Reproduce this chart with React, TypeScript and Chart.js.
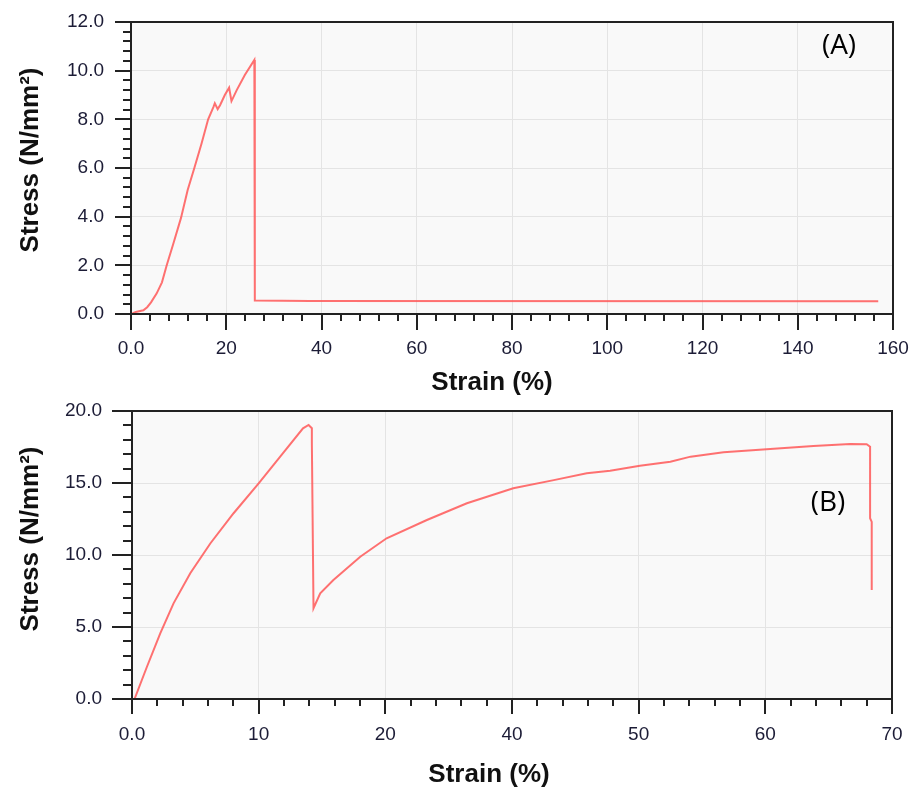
import React, { useEffect, useRef } from "react";
import { Chart, registerables } from "chart.js";

Chart.register(...registerables);

// ---- Chart A data ----
const A_STRAIN = [0.3, 1.0, 2.6, 3.4, 4.2, 5.4, 6.5, 7.5, 8.9, 10.5, 11.9, 13.3, 14.8, 16.2, 17.3, 17.6, 18.2, 18.7, 19.7, 20.6, 21.1, 22.2, 23.9, 25.9, 26.0, 37.5, 156.9];
const A_STRESS = [0.02, 0.08, 0.15, 0.28, 0.48, 0.85, 1.3, 2.0, 2.9, 3.95, 5.1, 6.0, 7.0, 8.0, 8.5, 8.66, 8.42, 8.58, 9.0, 9.3, 8.75, 9.2, 9.82, 10.44, 0.55, 0.53, 0.52];
const A_X_LABELS = ["0.0", "20", "40", "60", "80", "100", "120", "140", "160"];
const A_Y_LABELS = ["0.0", "2.0", "4.0", "6.0", "8.0", "10.0", "12.0"];

// ---- Chart B data ----
const B_STRAIN = [0.2, 1.18, 2.23, 3.28, 4.6, 6.18, 8.02, 10.0, 11.7, 13.5, 13.94, 14.2, 14.2, 14.33, 14.86, 15.9, 18.02, 20.1, 23.28, 26.44, 30.1, 33.3, 35.9, 37.75, 40.1, 42.5, 44.1, 46.7, 50.1, 53.8, 56.7, 58.0, 58.27, 58.27, 58.4, 58.4];
const B_STRESS = [0.0, 2.24, 4.56, 6.64, 8.73, 10.8, 12.9, 14.98, 16.83, 18.8, 19.03, 18.8, 17.76, 6.3, 7.34, 8.26, 9.88, 11.16, 12.43, 13.59, 14.63, 15.2, 15.67, 15.85, 16.2, 16.48, 16.83, 17.13, 17.34, 17.57, 17.71, 17.69, 17.52, 12.55, 12.3, 7.57];
const B_X_LABELS = ["0.0", "10", "20", "40", "50", "60", "70"];
const B_Y_LABELS = ["0.0", "5.0", "10.0", "15.0", "20.0"];

const X_TITLE = "Strain (%)";
const Y_TITLE = "Stress (N/mm\u00b2)";

const TICK_FONT = { family: "'Liberation Sans', Arial, sans-serif", size: 19 };
const TICK_COLOR = "#1c1c36";
const LINE_COLOR = "rgba(255, 88, 88, 0.85)";

const framePlugin = {
  id: "frame",
  beforeDraw(chart: any) {
    const { ctx, chartArea: a } = chart;
    ctx.save();
    ctx.fillStyle = "#f9f9f9";
    ctx.fillRect(a.left, a.top, a.right - a.left, a.bottom - a.top);
    ctx.restore();
  },
  afterDraw(chart: any, _args: any, opts: any) {
    const { ctx, chartArea: a, scales } = chart;
    const xs = scales.x;
    const ys = scales.y;
    ctx.save();
    ctx.strokeStyle = "#222";
    ctx.lineWidth = 2;
    ctx.strokeRect(a.left, a.top, a.right - a.left, a.bottom - a.top);
    ctx.beginPath();
    const nx = Math.round((xs.max - xs.min) / opts.xMinor);
    for (let i = 0; i <= nx; i++) {
      const v = xs.min + i * opts.xMinor;
      const px = Math.round(xs.getPixelForValue(v));
      const major = Math.abs(v / opts.xMajor - Math.round(v / opts.xMajor)) < 1e-6;
      ctx.moveTo(px, a.bottom);
      ctx.lineTo(px, a.bottom + (major ? opts.xMajorLen : opts.xMinorLen));
    }
    const ny = Math.round((ys.max - ys.min) / opts.yMinor);
    for (let i = 0; i <= ny; i++) {
      const v = ys.min + i * opts.yMinor;
      const py = Math.round(ys.getPixelForValue(v));
      const major = Math.abs(v / opts.yMajor - Math.round(v / opts.yMajor)) < 1e-6;
      ctx.moveTo(a.left, py);
      ctx.lineTo(a.left - (major ? opts.yMajorLen : opts.yMinorLen), py);
    }
    ctx.stroke();

    // axis titles
    ctx.fillStyle = "#111";
    ctx.font = "bold 26px 'Liberation Sans', Arial, sans-serif";
    ctx.textAlign = "center";
    ctx.textBaseline = "middle";
    ctx.fillText(X_TITLE, opts.xTitle[0], opts.xTitle[1]);
    ctx.save();
    ctx.translate(opts.yTitle[0], opts.yTitle[1]);
    ctx.rotate(-Math.PI / 2);
    ctx.fillText(Y_TITLE, 0, 0);
    ctx.restore();

    // panel tag
    ctx.font = "28px 'Open Sans', 'Noto Sans', sans-serif";
    ctx.fillStyle = "#000";
    ctx.fillText(opts.tag, opts.tagPos[0], opts.tagPos[1]);
    ctx.restore();
  },
};

function zeroPad(s: any) {
  s.paddingLeft = 0;
  s.paddingRight = 0;
  s.paddingTop = 0;
  s.paddingBottom = 0;
}

function makeConfig(p: any) {
  return {
    type: "line" as const,
    data: {
      datasets: [
        {
          data: p.xs.map((x: number, i: number) => ({ x, y: p.ys[i] })),
          borderColor: LINE_COLOR,
          borderWidth: 2,
          pointRadius: 0,
          tension: 0,
          fill: false,
        },
      ],
    },
    options: {
      responsive: false,
      animation: false as const,
      devicePixelRatio: 1,
      layout: { padding: { top: p.padTop, right: p.padRight, left: 0, bottom: 0 } },
      plugins: {
        legend: { display: false },
        tooltip: { enabled: false },
        frame: p.frame,
      },
      scales: {
        x: {
          type: "linear" as const,
          min: p.xMin,
          max: p.xMax,
          afterFit: (s: any) => { s.height = p.xAxisHeight; zeroPad(s); },
          afterBuildTicks: (s: any) => {
            s.ticks = p.xLabels.map((_: string, i: number) => ({ value: p.xMin + i * p.xStep }));
          },
          ticks: {
            font: TICK_FONT,
            color: TICK_COLOR,
            padding: p.xPad,
            maxRotation: 0,
            autoSkip: false,
            callback: (_v: any, i: number) => p.xLabels[i],
          },
          grid: { color: "#e4e4e4", lineWidth: 1, drawTicks: false },
          border: { display: false },
        },
        y: {
          type: "linear" as const,
          min: p.yMin,
          max: p.yMax,
          afterFit: (s: any) => { s.width = p.yAxisWidth; zeroPad(s); },
          afterBuildTicks: (s: any) => {
            s.ticks = p.yLabels.map((_: string, i: number) => ({ value: p.yMin + i * p.yStep }));
          },
          ticks: {
            font: TICK_FONT,
            color: TICK_COLOR,
            padding: p.yPad,
            autoSkip: false,
            callback: (_v: any, i: number) => p.yLabels[i],
          },
          grid: { color: "#e4e4e4", lineWidth: 1, drawTicks: false },
          border: { display: false },
        },
      },
    },
    plugins: [framePlugin],
  };
}

function Panel(props: { cfg: any; width: number; height: number; top: number }) {
  const ref = useRef<HTMLCanvasElement>(null);
  useEffect(() => {
    if (!ref.current) return;
    const chart = new Chart(ref.current, props.cfg as any);
    return () => chart.destroy();
  }, []);
  return (
    <canvas
      ref={ref}
      width={props.width}
      height={props.height}
      style={{ position: "absolute", left: 0, top: props.top, width: props.width, height: props.height, display: "block" }}
    />
  );
}

export default function App() {
  const cfgA = makeConfig({
    xs: A_STRAIN,
    ys: A_STRESS,
    xMin: 0, xMax: 160, xStep: 20,
    yMin: 0, yMax: 12, yStep: 2,
    xLabels: A_X_LABELS,
    yLabels: A_Y_LABELS,
    padTop: 22, padRight: 23,
    xAxisHeight: 81, yAxisWidth: 131,
    xPad: 23, yPad: 27,
    frame: {
      xMinor: 4, xMajor: 20, xMajorLen: 16, xMinorLen: 7,
      yMinor: 0.4, yMajor: 2, yMajorLen: 16, yMinorLen: 8,
      xTitle: [492, 383], yTitle: [31, 160],
      tag: "(A)", tagPos: [839, 46],
    },
  });
  const cfgB = makeConfig({
    xs: B_STRAIN,
    ys: B_STRESS,
    xMin: 0, xMax: 60, xStep: 10,
    yMin: 0, yMax: 20, yStep: 5,
    xLabels: B_X_LABELS,
    yLabels: B_Y_LABELS,
    padTop: 16, padRight: 24,
    xAxisHeight: 90, yAxisWidth: 132,
    xPad: 24, yPad: 30,
    frame: {
      xMinor: 2, xMajor: 10, xMajorLen: 15, xMinorLen: 7,
      yMinor: 1, yMajor: 5, yMajorLen: 20, yMinorLen: 9,
      xTitle: [489, 380], yTitle: [31, 144],
      tag: "(B)", tagPos: [828, 108],
    },
  });
  return (
    <div style={{ position: "absolute", left: 0, top: 0, width: 916, height: 789, background: "#fff" }}>
      <Panel cfg={cfgA} width={916} height={395} top={0} />
      <Panel cfg={cfgB} width={916} height={394} top={395} />
    </div>
  );
}
